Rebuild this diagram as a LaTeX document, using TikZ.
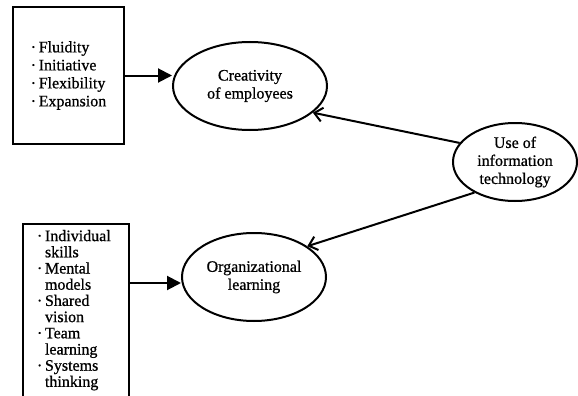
\documentclass[tikz,border=0pt]{standalone}
\usepackage{fontspec}
\setmainfont{Liberation Serif}[FakeBold=0.8]
\usetikzlibrary{arrows.meta,shapes.geometric}
\newcommand{\dotmark}{\makebox[8pt][l]{·}}
\newcommand{\dotskip}{\hspace*{8pt}}
\begin{document}
\begin{tikzpicture}[x=1pt,y=-1pt,line width=2pt,
	oval/.style={draw,ellipse,inner sep=0pt,align=center,font=\fontsize{16}{18}\selectfont},
	listbox/.style={draw,rectangle,align=left},
	fed/.style={-{Triangle[length=14pt,width=14pt]}},
	uses/.style={-{Straight Barb[length=8pt,width=14pt]}}]
	\useasboundingbox (0,0) rectangle (578,396);
	\node[listbox, minimum width=111pt, minimum height=137pt, font=\fontsize{16}{18}\selectfont] (traits) at (68.5,75.5) {\dotmark Fluidity\\ \dotmark Initiative\\ \dotmark Flexibility\\ \dotmark Expansion};
	\node[listbox, anchor=north west, text width=78pt, inner xsep=14pt, inner ysep=6pt, font=\fontsize{16}{16.2}\selectfont] (disciplines) at (22,223) {\dotmark Individual\\ \dotskip skills\\ \dotmark Mental\\ \dotskip models\\ \dotmark Shared\\ \dotskip vision\\ \dotmark Team\\ \dotskip learning\\ \dotmark Systems\\ \dotskip thinking\\[8pt] \mbox{}};
	\node[oval, minimum width=154pt, minimum height=88pt] (creativity) at (250,86) {Creativity\\of employees};
	\node[oval, minimum width=144pt, minimum height=88pt] (learning) at (254,277) {Organizational\\learning};
	\node[oval, minimum width=124pt, minimum height=78pt] (ituse) at (515,162) {Use of\\information\\technology};
	\coordinate (lrn) at ([yshift=-6pt]learning.west);
	\draw[fed] (traits.east) -- (traits.east -| creativity.west);
	\draw[fed] (lrn -| disciplines.east) -- (lrn);
	\draw[uses] (ituse.161) -- (creativity.-23);
	\draw[uses] (ituse.217) -- (learning.30);
\end{tikzpicture}
\end{document}
